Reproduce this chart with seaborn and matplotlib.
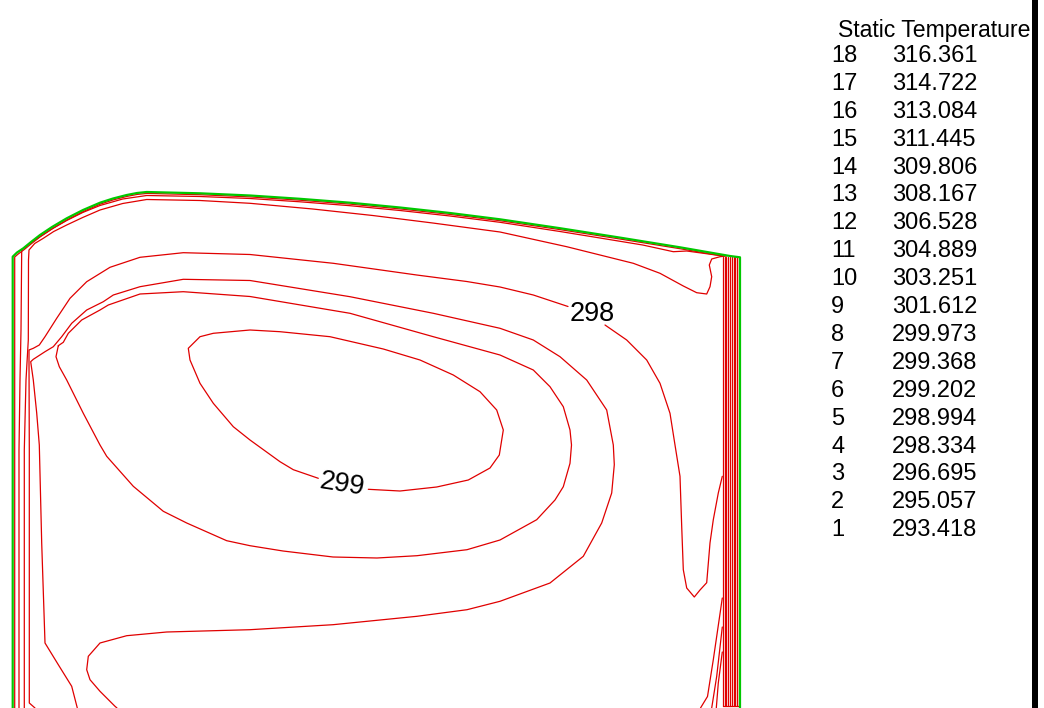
import pandas as pd
import matplotlib
matplotlib.use("Agg")
import matplotlib.pyplot as plt
from matplotlib.patches import Rectangle
import seaborn as sns

# ── Data: traced iso-lines, mm (x from left wall, y up from bottom of view) ──
wall_x = [0, 0, 4.3, 10.6, 18.3, 27.3, 39.3, 54, 70.3, 87.3, 100.3, 114, 124.3, 134,
          187.3, 237.3, 287.3, 337.3, 387.3, 437.3, 487.3, 547.3, 607.3, 667.3,
          717.3, 727.3, 727.3]
wall_y = [0, 451.3, 455.5, 459.7, 466, 473, 481, 489.7, 498, 505.3, 509.5, 513, 515,
          516, 514.7, 512.5, 509.2, 505.3, 500.5, 495, 488.7, 479.8, 470.4, 460.7,
          452, 450.7, 0]

top_a_x = [2, 2, 5.5, 11.3, 19, 28, 40, 54.6, 70.8, 87.6, 100.5, 114.2, 124.5, 134.3,
           187.3, 237.3, 287.3, 337.3, 387.3, 437.3, 487.3, 547.3, 607.3, 667.3, 710]
top_a_y = [0, 451, 454, 458.3, 464.6, 471.6, 479.6, 488.3, 496.6, 503.9, 508.1, 511.6,
           513.6, 514.6, 513.3, 511.1, 507.8, 503.9, 499.1, 493.6, 487.3, 478.4, 469,
           459.3, 452]

top_b_x = [6.3, 6.3, 7.3, 8.3, 9, 17, 27.3, 40, 54, 70, 87.3, 110, 134, 187.3, 237.3,
           287.3, 337.3, 387.3, 437.3, 487.3, 547.3, 587.3, 630, 660.6, 674, 710.6]
top_b_y = [0, 258, 328, 378, 458, 464.5, 471.3, 479.5, 487.5, 495.5, 502.5, 509,
           512.5, 511.5, 509.5, 506.2, 502.3, 497.5, 492, 485.7, 476.5, 470, 463,
           456.3, 457, 452]

top_c_x = [11.6, 11.6, 13.3, 15.6, 15.8, 16.3, 22, 30.6, 41, 54, 70, 87.3, 110, 134,
           187.3, 237.3, 300, 360, 420, 487.3, 554, 620.6, 647.3, 670.6, 684, 694,
           697.3, 699, 696.6, 699, 707.3, 714]
top_c_y = [0, 258, 328, 368, 448, 458, 464.5, 469.7, 476.5, 483, 490.5, 498, 504.5,
           508.5, 507.5, 504.7, 499, 492.5, 485, 476, 461.3, 444.7, 434.7, 422, 415.3,
           414, 421.3, 431.3, 443, 449, 451.3, 452]

# level 298, split around its label
t298_a_x = [22.3, 16.6, 16.6, 16.3, 16.3, 20.6, 26.6, 32.3, 44, 57.3, 74, 97.3, 127.3,
            170.6, 237.3, 320.6, 404, 454, 487.3, 520.6, 555.3]
t298_a_y = [0, 5, 258, 348, 358, 359.7, 363, 371.3, 389.7, 409.7, 426.3, 440.7, 450.7,
            455.3, 453.5, 444.7, 433, 426.5, 421, 413, 401.5]
t298_b_x = [592.3, 614, 634, 647.3, 657.3, 662.3, 667.3, 669, 670.6, 674, 681.6, 687.3,
            694, 697.3, 700.6, 705.6, 709.6]
t298_b_y = [383, 368, 348, 324.7, 294.7, 263, 231.7, 181.7, 138.3, 120, 111, 118,
            125.3, 165, 188.3, 215, 231.7]

outer_x = [64.6, 59, 45.6, 32.3, 29, 26.6, 24, 20.6, 18, 20.6, 32.3, 40.6, 49, 59, 74,
           90.6, 100.6, 127.3, 170.6, 237.3, 337.3, 420.6, 487.3, 520.6, 547.3, 574,
           594, 600.6, 601.6, 599, 589, 570.6, 537.3, 487.3, 454.3, 404.3, 320.3, 237.3,
           154, 114, 87.3, 75.6, 74, 77.3, 87.3, 102.3, 104.3]
outer_y = [0, 21.7, 43.3, 65, 165, 263, 295, 328, 346.3, 348.7, 356.3, 361.3, 371.3,
           384.7, 398, 406.3, 413, 421.3, 428.7, 427.5, 411.3, 394.7, 379.7, 368, 351.3,
           328, 298, 263, 243.3, 215, 185, 151.7, 125, 106.7, 98.3, 91.7, 83.3, 78.3,
           76, 72.3, 65, 51.7, 38.3, 28.3, 16.7, 1.7, 0]

mid_x = [45.6, 43.3, 46.6, 54, 70.6, 87.3, 94, 120.6, 150.6, 174, 214, 237.3, 270.3,
         320.3, 364.3, 404.3, 454.3, 487.3, 524, 542.3, 550.6, 557.3, 558.8, 557.3,
         550.6, 537.3, 520.6, 487.3, 420.6, 337.3, 237.3, 170.6, 127.3, 95.6, 87.3, 69,
         55.6, 50.6, 45.6]
mid_y = [362.3, 351.3, 341.3, 328, 294.7, 263, 251.7, 221.7, 196.7, 185, 167.3, 162.3,
         157, 151, 150, 152.3, 158.3, 168, 188.3, 208, 221.3, 244.7, 263, 278, 301.3,
         321.3, 338, 353, 371.3, 394.7, 411.5, 416.3, 414, 403, 398, 388, 374.7, 365.7,
         362.3]

# level 299, split around its label
core_x = [355.6, 387.3, 424, 455.6, 477.3, 486.6, 490.6, 484, 467.3, 440.6, 407.3, 370.6,
          317.3, 267.3, 237.3, 200.6, 187.3, 175.6, 177.3, 187.3, 200.6, 220.6, 237.3,
          267.3, 280.6, 305.6]
core_y = [218.7, 217, 221, 228, 240, 253, 278, 298, 316.3, 333, 348, 359, 371.3, 376.3,
          378, 374.7, 371.3, 359.7, 348, 324.7, 304.7, 281.3, 268, 246.3, 238.3, 229.7]

low_a_x = [709.6, 700.6, 694.8, 687.8]
low_a_y = [110, 48.3, 11.5, 0]
low_b_x = [709.6, 704, 699]
low_b_y = [81, 31.7, 0]
low_c_x = [709.6, 705.6, 703.6]
low_c_y = [56, 25, 0]

# hot wall layer
layer_x = [710.0, 711.8, 713.6, 715.4, 717.2, 719.0, 720.8, 722.6, 724.4, 726.2]
layer_top = 451.5
layer_bottom = 1.7

label_text = ["298", "299"]
label_x = [579.8, 329.8]
label_y = [393.8, 223.5]
label_rot = [0, -9]

level_ids = list(range(18, 0, -1))
level_vals = ["316.361", "314.722", "313.084", "311.445", "309.806", "308.167",
              "306.528", "304.889", "303.251", "301.612", "299.973", "299.368",
              "299.202", "298.994", "298.334", "296.695", "295.057", "293.418"]

# ── Build long table ──────────────────────────────────
red_lines = {
    "top_a": (top_a_x, top_a_y),
    "top_b": (top_b_x, top_b_y),
    "top_c": (top_c_x, top_c_y),
    "t298_a": (t298_a_x, t298_a_y),
    "t298_b": (t298_b_x, t298_b_y),
    "outer": (outer_x, outer_y),
    "mid": (mid_x, mid_y),
    "core": (core_x, core_y),
    "low_a": (low_a_x, low_a_y),
    "low_b": (low_b_x, low_b_y),
    "low_c": (low_c_x, low_c_y),
}
for i, lx in enumerate(layer_x):
    red_lines["layer_%d" % i] = ([lx, lx], [layer_bottom, layer_top])
red_lines["layer_cap"] = ([layer_x[0], layer_x[-1]], [layer_bottom, layer_bottom])

frames = [pd.DataFrame({"x": xs, "y": ys, "line": name})
          for name, (xs, ys) in red_lines.items()]
df = pd.concat(frames, ignore_index=True)
wall = pd.DataFrame({"x": wall_x, "y": wall_y})

# ── Plot ──────────────────────────────────────────────
sns.set_style("white")
plt.rcParams["font.family"] = ["Liberation Sans", "DejaVu Sans"]
plt.rcParams["text.color"] = "black"

fig = plt.figure(figsize=(10.44, 7.08), dpi=100)
ax = fig.add_axes([0, 0, 1, 1])

sns.lineplot(data=df, x="x", y="y", units="line", estimator=None, sort=False,
             color="#e00000", lw=0.9, ax=ax, legend=False)
sns.lineplot(data=wall, x="x", y="y", estimator=None, sort=False,
             color="#00c800", lw=1.6, ax=ax, legend=False)

for t, x, y, r in zip(label_text, label_x, label_y, label_rot):
    ax.text(x, y, t, fontsize=19.5, rotation=r, ha="center", va="center",
            rotation_mode="anchor", color="black")

ax.set_xlim(-12.7, 1031.3)
ax.set_ylim(0, 708)
ax.axis("off")

# legend block
W, H = 1044, 708
fig.text(838 / W, 1 - 36.5 / H, "Static Temperature", fontsize=16.6, va="baseline")
for j, (n, v) in enumerate(zip(level_ids, level_vals)):
    yb = 1 - (62 + 27.9 * j) / H
    fig.text(831 / W, yb, str(n), fontsize=17, va="baseline")
    fig.text(892 / W, yb, v, fontsize=17, va="baseline")

fig.add_artist(Rectangle((1032 / W, 0), 5.5 / W, 1, transform=fig.transFigure,
                         color="black", lw=0, zorder=10))

fig.savefig("out.png", dpi=100)
